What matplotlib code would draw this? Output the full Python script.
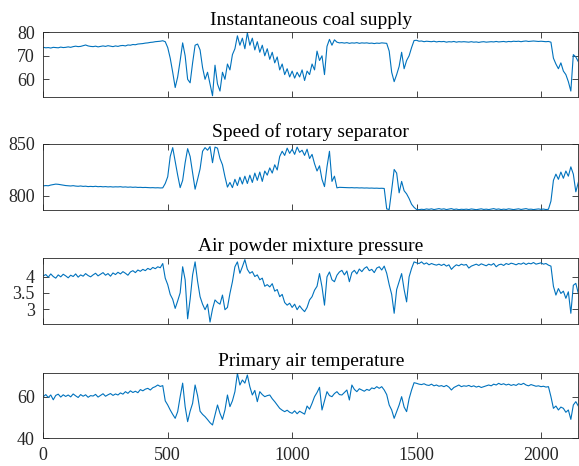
import numpy as np
import matplotlib
matplotlib.use("Agg")
import matplotlib.pyplot as plt

plt.rcParams["font.family"] = ["Liberation Serif", "DejaVu Serif"]

# sample index (every 10th sample)
sample = np.arange(0, 2160, 10)

titles = [
    "Instantaneous coal supply",
    "Speed of rotary separator",
    "Air powder mixture pressure",
    "Primary air temperature",
]

coal_supply = [
    73.6, 73.4, 73.5, 73.3, 73.6, 73.5, 73.4, 73.7, 73.5, 73.6,
    73.8, 73.6, 73.9, 74.1, 73.9, 74.0, 74.3, 74.6, 74.2, 74.0,
    73.9, 74.1, 73.8, 74.0, 74.2, 74.0, 74.3, 74.1, 73.9, 74.2,
    74.0, 74.3, 74.4, 74.2, 74.6, 74.5, 74.8, 74.7, 75.0, 75.1,
    75.2, 75.4, 75.5, 75.7, 75.8, 76.0, 76.1, 76.2, 76.4, 76.0,
    73.5, 69.0, 63.0, 56.5, 61.0, 68.0, 75.5, 70.0, 60.0, 58.5,
    67.0, 74.5, 75.0, 72.5, 65.0, 60.0, 63.0, 58.0, 53.0, 66.0,
    58.0, 55.0, 63.0, 60.0, 66.5, 64.0, 70.5, 73.0, 78.5, 74.5,
    77.5, 73.0, 79.8, 74.5, 77.5, 72.5, 76.0, 71.5, 74.5, 70.0,
    73.0, 68.5, 71.5, 67.0, 69.5, 64.0, 66.5, 62.0, 64.5, 61.0,
    63.5, 60.5, 63.0, 61.0, 64.0, 59.5, 63.5, 62.0, 66.5, 64.0,
    72.0, 68.0, 70.0, 62.0, 74.0, 77.0, 74.5, 76.8, 75.8, 75.5,
    75.6, 75.4, 75.6, 75.3, 75.5, 75.4, 75.6, 75.3, 75.5, 75.4,
    75.5, 75.3, 75.4, 75.2, 75.4, 75.3, 75.5, 75.4, 75.3, 72.0,
    63.0, 59.0, 62.0, 65.5, 71.5, 64.5, 68.0, 70.0, 73.5, 76.5,
    76.6, 76.2, 76.3, 76.0, 76.2, 76.1, 76.0, 76.2, 75.9, 76.1,
    76.0, 76.1, 75.8, 76.0, 75.9, 76.1, 75.8, 76.0, 75.9, 76.0,
    75.9, 75.8, 76.0, 75.8, 75.9, 75.7, 75.9, 76.0, 75.8, 75.9,
    76.0, 75.9, 76.1, 75.9, 76.0, 76.1, 75.9, 76.1, 76.0, 76.2,
    76.1, 76.2, 76.0, 76.2, 76.3, 76.1, 76.2, 76.3, 76.2, 76.1,
    76.2, 76.1, 76.0, 76.1, 75.8, 69.0, 66.5, 64.5, 67.0, 63.5,
    62.0, 59.0, 55.0, 70.5, 69.5, 67.5,
]

separator_speed = [
    809.7, 810.0, 809.8, 810.5, 811.0, 811.4, 811.2, 810.8, 810.3, 810.0,
    809.8, 809.6, 809.9, 809.5, 809.3, 809.6, 809.2, 809.4, 809.0, 809.2,
    809.0, 809.3, 808.9, 809.1, 808.8, 809.0, 808.7, 808.9, 808.6, 808.8,
    808.7, 808.9, 808.5, 808.7, 808.4, 808.6, 808.3, 808.5, 808.2, 808.3,
    808.1, 808.2, 808.0, 807.9, 808.0, 807.8, 807.9, 807.7, 807.8, 812.0,
    818.5, 838.0, 846.5, 833.0, 820.0, 808.0, 815.0, 832.0, 845.5, 838.0,
    822.0, 806.5, 816.0, 826.0, 843.0, 846.5, 844.0, 847.5, 832.0, 847.0,
    846.0, 836.0, 830.0, 818.5, 808.5, 813.0, 808.0, 816.0, 810.0, 818.0,
    811.5, 819.0, 812.0, 820.0, 813.0, 822.0, 815.0, 823.0, 814.0, 824.0,
    820.0, 827.0, 822.0, 830.0, 825.0, 838.0, 843.0, 839.0, 846.0, 841.0,
    845.0, 840.0, 847.0, 842.0, 844.0, 839.0, 845.0, 836.0, 840.0, 831.0,
    824.0, 829.0, 816.0, 809.0, 828.0, 843.0, 814.0, 819.0, 807.8, 808.3,
    808.2, 808.0, 808.1, 807.9, 808.0, 807.8, 807.9, 807.7, 807.8, 807.6,
    807.7, 807.5, 807.6, 807.4, 807.5, 807.3, 807.4, 807.2, 787.5, 787.0,
    805.8, 825.5, 822.0, 803.0, 814.0, 805.0, 802.0, 797.5, 792.0, 789.0,
    787.0, 786.8, 787.2, 786.9, 787.5, 787.1, 787.6, 786.9, 787.3, 787.8,
    787.2, 787.6, 786.9, 787.3, 787.8, 787.0, 787.4, 786.8, 787.2, 787.0,
    787.3, 786.9, 787.5, 787.1, 786.8, 787.2, 787.6, 787.0, 787.3, 786.9,
    787.4, 787.8, 787.1, 787.5, 786.9, 787.3, 787.0, 787.6, 787.2, 786.9,
    787.3, 787.6, 787.0, 787.4, 787.8, 787.1, 787.3, 786.9, 787.2, 787.5,
    787.1, 787.4, 786.9, 787.2, 795.0, 815.0, 821.0, 816.0, 823.0, 817.0,
    824.0, 819.0, 828.0, 821.0, 804.0, 813.0,
]

mixture_pressure = [
    4.02, 4.06, 3.98, 4.08, 4.00, 3.95, 4.05, 3.99, 4.07, 4.02,
    3.96, 4.04, 4.00, 4.08, 3.98, 4.05, 4.01, 4.09, 4.03, 3.99,
    4.05, 4.10, 4.02, 4.07, 4.12, 4.04, 4.09, 4.01, 4.11, 4.06,
    4.13, 4.08, 4.15, 4.10, 4.04, 4.14, 4.18, 4.12, 4.20, 4.16,
    4.22, 4.18, 4.25, 4.21, 4.28, 4.24, 4.30, 4.27, 4.40, 3.95,
    3.75, 3.45, 3.30, 3.02, 3.25, 3.50, 4.30, 3.90, 2.70, 3.30,
    4.05, 4.45, 3.85, 3.38, 3.15, 2.98, 3.15, 2.60, 3.00, 3.28,
    3.20, 3.15, 3.43, 2.98, 3.05, 3.48, 3.84, 4.30, 4.45, 4.10,
    4.30, 4.52, 4.22, 4.10, 4.15, 4.00, 4.05, 3.90, 3.95, 3.70,
    3.75, 3.68, 3.78, 3.55, 3.60, 3.38, 3.45, 3.20, 3.12, 3.18,
    3.05, 3.15, 2.98, 3.10, 3.00, 2.92, 3.05, 3.28, 3.38, 3.58,
    3.70, 4.09, 3.68, 3.12, 3.99, 4.14, 3.90, 3.84, 4.04, 4.14,
    4.19, 4.05, 4.17, 3.84, 4.12, 4.19, 4.08, 4.23, 4.15, 4.25,
    4.30, 4.18, 4.22, 4.12, 4.26, 4.30, 4.20, 4.32, 4.10, 3.75,
    3.45, 2.87, 3.60, 3.85, 4.09, 3.60, 3.22, 3.99, 4.25, 4.45,
    4.42, 4.40, 4.45, 4.38, 4.42, 4.36, 4.40, 4.37, 4.35, 4.38,
    4.34, 4.38, 4.32, 4.36, 4.22, 4.30, 4.36, 4.33, 4.38, 4.35,
    4.37, 4.26, 4.32, 4.35, 4.38, 4.34, 4.39, 4.36, 4.33, 4.38,
    4.35, 4.40, 4.30, 4.36, 4.38, 4.34, 4.40, 4.37, 4.41, 4.39,
    4.36, 4.40, 4.38, 4.42, 4.37, 4.41, 4.39, 4.43, 4.38, 4.40,
    4.42, 4.38, 4.40, 4.35, 4.32, 3.70, 3.43, 3.63, 3.48, 3.55,
    3.33, 3.53, 2.87, 3.73, 3.79, 3.48,
]

air_temperature = [
    60.0, 61.0, 59.6, 60.8, 58.5, 60.6, 61.2, 59.8, 60.9, 60.1,
    60.8, 59.9, 61.3, 60.4, 59.6, 61.0, 60.2, 60.9, 59.7, 60.5,
    60.3, 61.1, 59.8, 60.6, 61.4, 60.2, 60.9, 61.5, 60.6, 61.3,
    60.8, 61.8, 61.2, 62.4, 61.6, 62.8, 62.0, 62.6, 61.9, 63.4,
    62.8, 63.6, 64.0, 63.2, 64.3, 64.8, 65.6, 64.9, 65.3, 58.0,
    56.0, 53.6, 51.5, 49.6, 52.8, 60.0, 66.5, 55.2, 48.0, 53.0,
    56.8, 65.6, 60.5, 53.0, 51.5, 50.4, 49.0, 47.5, 46.4, 51.2,
    56.0, 52.0, 49.1, 53.6, 60.8, 55.2, 58.0, 62.4, 71.2, 65.6,
    68.0, 66.5, 70.4, 64.8, 60.8, 63.0, 57.6, 62.4, 61.0, 60.0,
    60.5, 60.8, 59.0, 57.6, 56.0, 54.4, 53.5, 52.8, 53.5, 52.5,
    52.0, 53.2, 51.8, 53.0, 52.3, 51.6, 55.5, 54.0, 56.8, 60.0,
    62.0, 64.5, 53.6, 58.0, 62.4, 60.5, 60.0, 61.5, 62.4, 61.0,
    60.8, 62.0, 63.2, 58.4, 65.6, 63.5, 62.4, 63.8, 63.2, 62.6,
    63.5, 63.0, 64.2, 63.8, 64.8, 64.0, 64.8, 63.2, 61.0, 56.0,
    53.6, 49.6, 52.8, 56.0, 60.0, 55.0, 52.8, 59.0, 63.2, 66.7,
    66.4, 66.0, 65.8, 66.2, 65.6, 65.4, 66.0, 65.2, 65.6, 65.0,
    65.3, 64.8, 65.4, 64.6, 63.2, 64.4, 65.0, 65.6, 64.8, 65.2,
    65.0, 65.4, 64.8, 65.2, 64.6, 65.0, 64.4, 64.8, 65.2, 65.6,
    65.2, 66.0, 65.6, 66.4, 65.8, 66.2, 65.6, 66.0, 65.4, 65.8,
    65.4, 66.2, 65.8, 66.4, 65.6, 65.2, 65.8, 65.4, 65.0, 65.2,
    64.8, 65.0, 64.6, 64.8, 60.0, 54.4, 55.5, 53.6, 55.0, 54.4,
    52.5, 53.6, 49.1, 56.0, 57.6, 55.5,
]

series = [coal_supply, separator_speed, mixture_pressure, air_temperature]
y_limits = [(52.6, 80), (786.5, 850), (2.54, 4.56), (40, 71.5)]
y_ticks = [[60, 70, 80], [800, 850], [3, 3.5, 4], [40, 60]]
y_ticklabels = [["60", "70", "80"], ["800", "850"], ["3", "3.5", "4"], ["40", "60"]]
x_ticks = [0, 500, 1000, 1500, 2000]

# axes boxes in figure fractions [left, bottom, width, height]
boxes = [
    [0.0748, 0.7925, 0.924, 0.1382],
    [0.0748, 0.5494, 0.924, 0.1416],
    [0.0748, 0.3047, 0.924, 0.1410],
    [0.0748, 0.0594, 0.924, 0.1408],
]

line_color = "#0072BD"
axis_color = "#262626"

fig = plt.figure(figsize=(5.79, 4.66), dpi=100)
for i, values in enumerate(series):
    ax = fig.add_axes(boxes[i])
    ax.plot(sample, values, color=line_color, linewidth=0.8)
    ax.set_xlim(0, 2150)
    ax.set_ylim(*y_limits[i])
    ax.set_yticks(y_ticks[i])
    ax.set_yticklabels(y_ticklabels[i])
    ax.set_xticks(x_ticks)
    if i < len(series) - 1:
        ax.set_xticklabels([])
    ax.tick_params(direction="in", top=True, right=True, length=4, width=0.6,
                   labelsize=13, pad=6, colors=axis_color)
    for spine in ax.spines.values():
        spine.set_linewidth(0.6)
        spine.set_color(axis_color)
    ax.set_title(titles[i], fontsize=14, pad=5, color="black")

fig.savefig("out.png", dpi=100)
